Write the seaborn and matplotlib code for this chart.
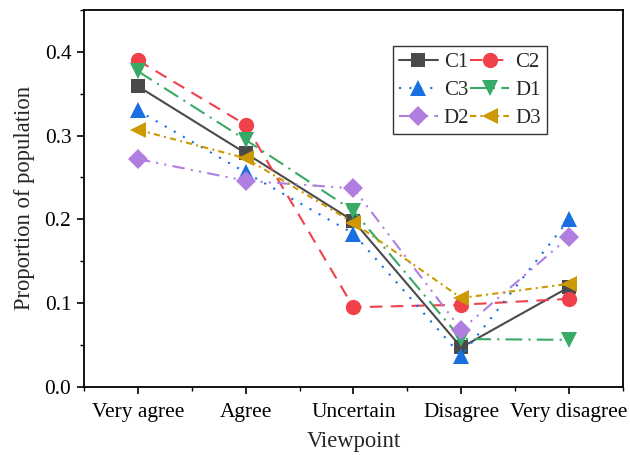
import pandas as pd
import numpy as np
import matplotlib
matplotlib.use("Agg")
import matplotlib.pyplot as plt
import seaborn as sns
from matplotlib.ticker import MultipleLocator, FormatStrFormatter

# Categories and series values
viewpoints = ['Very agree', 'Agree', 'Uncertain', 'Disagree', 'Very disagree']
c1 = [0.359, 0.279, 0.198, 0.047, 0.119]
c2 = [0.390, 0.313, 0.095, 0.098, 0.105]
c3 = [0.330, 0.256, 0.183, 0.037, 0.200]
d1 = [0.377, 0.295, 0.210, 0.057, 0.056]
d2 = [0.272, 0.246, 0.237, 0.068, 0.179]
d3 = [0.307, 0.273, 0.196, 0.106, 0.123]

series_names = ['C1', 'C2', 'C3', 'D1', 'D2', 'D3']
series_values = [c1, c2, c3, d1, d2, d3]

colors = ['#4a4a4a', '#f0404a', '#1a6fe0', '#37aa66', '#b07ee0', '#cc9900']
markers = ['s', 'o', '^', 'v', 'D', '<']
dashes = [None, (6, 4), (1, 4), (8, 3, 1, 3), (6, 3, 1, 3, 1, 3), (3, 2, 1, 2)]
msizes = [10, 11, 11, 11, 10, 11]

sns.set_style('ticks')
plt.rcParams['font.family'] = ['Liberation Serif', 'DejaVu Serif']

fig, ax = plt.subplots(figsize=(6.3, 4.55), dpi=100)

for name, vals, col, mk, ds, ms in zip(series_names, series_values, colors, markers, dashes, msizes):
    df = pd.DataFrame({'pos': np.arange(len(viewpoints)), 'value': vals})
    sns.lineplot(data=df, x='pos', y='value', ax=ax, color=col, marker=mk,
                 markersize=ms, markeredgewidth=0, linewidth=1.5, label=name)
    if ds is not None:
        ax.lines[-1].set_dashes(ds)

ax.set_xlim(-0.5, 4.5)
ax.set_ylim(0, 0.45)
ax.set_xticks(np.arange(len(viewpoints)))
ax.set_xticklabels(viewpoints)
ax.xaxis.set_minor_locator(MultipleLocator(0.5))
ax.yaxis.set_major_locator(MultipleLocator(0.1))
ax.yaxis.set_minor_locator(MultipleLocator(0.05))
ax.yaxis.set_major_formatter(FormatStrFormatter('%.1f'))

ax.tick_params(axis='both', which='major', direction='out', length=5, width=1.2,
               labelsize=15.4, color='black', labelcolor='black', pad=4)
ax.tick_params(axis='x', which='major', pad=7)
ax.tick_params(axis='both', which='minor', direction='out', length=3, width=1.0, color='black')

for sp in ax.spines.values():
    sp.set_visible(True)
    sp.set_linewidth(1.3)
    sp.set_color('black')

ax.set_xlabel('Viewpoint', fontsize=16.3, labelpad=6)
ax.set_ylabel('Proportion of population', fontsize=16.3, labelpad=7)

# legend filled row by row: C1 C2 / C3 D1 / D2 D3
handles, labels = ax.get_legend_handles_labels()
order = [0, 2, 4, 1, 3, 5]
leg = ax.legend([handles[i] for i in order], [labels[i] for i in order],
                loc='upper left', bbox_to_anchor=(0.573, 0.904), ncol=2, fontsize=15,
                frameon=True, fancybox=False, edgecolor='#333333', framealpha=1,
                handlelength=1.85, handletextpad=0.3, columnspacing=0.05,
                labelspacing=0.4, borderpad=0.3, borderaxespad=0)
leg.get_frame().set_linewidth(1.0)

fig.subplots_adjust(left=0.133, right=0.989, top=0.978, bottom=0.150)
fig.savefig('out.png', dpi=100)
plt.close(fig)
